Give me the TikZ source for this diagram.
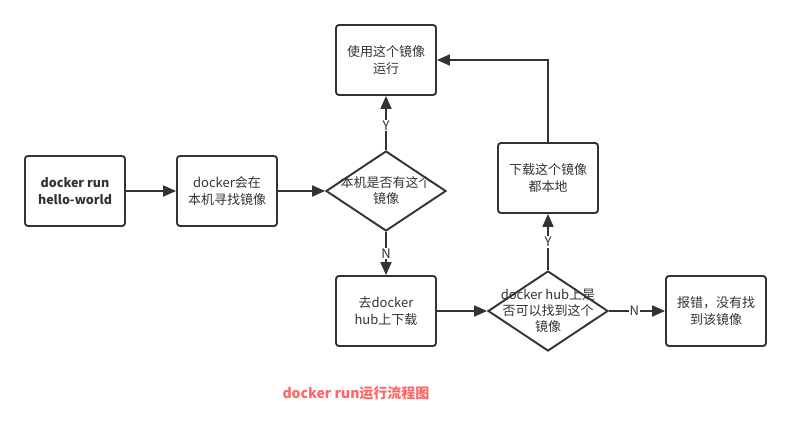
\documentclass[tikz,border=0pt]{standalone}
\usepackage{fontspec}
\setmainfont{Noto Sans CJK SC}
\usetikzlibrary{arrows.meta,shapes.geometric}
\definecolor{ln}{HTML}{333333}
\definecolor{tx}{HTML}{333333}
\definecolor{ttl}{HTML}{FF6666}
\tikzset{
  box/.style={draw=ln, line width=1.9pt, rounded corners=3pt, minimum width=100pt, minimum height=70pt, inner sep=0pt, align=center, text=tx, font=\fontsize{13}{17}\selectfont},
  dia/.style={draw=ln, line width=1.9pt, diamond, minimum width=120pt, minimum height=80pt, inner sep=0pt, align=center, text=tx},
  dtext/.style={align=center, text=tx, font=\fontsize{13}{16}\selectfont},
  conn/.style={draw=ln, line width=1.9pt, -{Triangle[length=13pt,width=11pt]}},
  lbl/.style={fill=white, inner sep=1pt, text=tx, font=\fontsize{13}{14}\selectfont}
}
\begin{document}
\begin{tikzpicture}[x=1pt,y=-1pt]
\useasboundingbox (0,0) rectangle (792,436);
\node[box, font=\fontsize{12.5}{17}\selectfont\bfseries] (A) at (75,191) {docker run\\hello-world};
\node[box] (B) at (227,191) {docker会在\\本机寻找镜像};
\node[dia] (D1) at (386,191) {};
\node[dtext] (D1t) at (386,191) {本机是否有这个\\镜像};
\node[box] (C) at (386,60) {使用这个镜像\\运行};
\node[box] (E) at (386,311) {去docker\\hub上下载};
\node[dia] (D2) at (548,311) {};
\node[dtext] (D2t) at (548,311) {docker hub上是\\否可以找到这个\\镜像};
\node[box] (F) at (548,178) {下载这个镜像\\都本地};
\node[box] (G) at (716,311) {报错，没有找\\到该镜像};
\node[text=ttl, font=\fontsize{14}{16}\selectfont\bfseries] (T) at (356,393) {docker run运行流程图};
\draw[conn] (A) -- (B);
\draw[conn] (B) -- (D1);
\draw[conn] (D1) -- node[lbl, pos=0.45] {Y} (C);
\draw[conn] (D1) -- node[lbl, pos=0.5] {N} (E);
\draw[conn] (E) -- (D2);
\draw[conn] (D2) -- node[lbl, pos=0.45] {N} (G);
\draw[conn] (D2) -- node[lbl, pos=0.5] {Y} (F);
\draw[conn] (F.north) |- (C.east);
\end{tikzpicture}
\end{document}
